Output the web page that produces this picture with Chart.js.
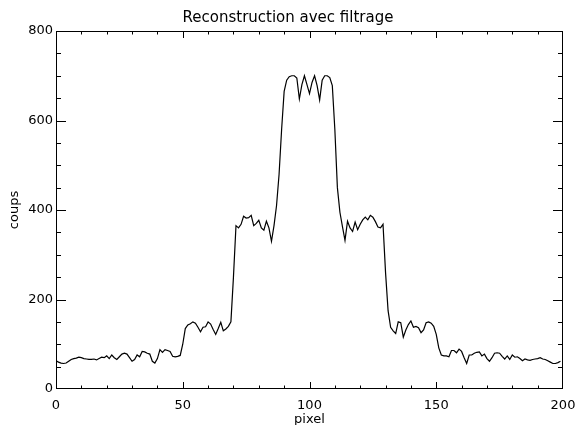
<!DOCTYPE html>
<html>
<head>
<meta charset="utf-8">
<script src="https://cdn.jsdelivr.net/npm/chart.js@4.4.1/dist/chart.umd.min.js"></script>
<style>
  html, body { margin: 0; padding: 0; background: #fff; }
  #wrap { position: relative; width: 576px; height: 425px; }
</style>
</head>
<body>
<div id="wrap"><canvas id="chart" width="576" height="425"></canvas></div>
<script>
    // 刻度标签
    const xTickLabels = [0, 50, 100, 150, 200];
    const yTickLabels = [0, 200, 400, 600, 800];

    // 每个像素的计数（pixel 0..199）
    const counts = [
        63, 60, 58, 57, 58, 62, 66, 68, 69, 71,
        70, 68, 67, 66, 66, 67, 65, 68, 71, 70,
        74, 68, 76, 70, 66, 72, 78, 80, 78, 70,
        62, 66, 76, 72, 84, 83, 80, 78, 62, 58,
        68, 88, 82, 88, 86, 84, 73, 72, 73, 75,
        100, 135, 143, 146, 150, 147, 138, 128, 138, 139,
        150, 145, 133, 122, 135, 149, 130, 134, 140, 150,
        250, 365, 360, 368, 386, 382, 383, 388, 365, 370,
        377, 360, 355, 375, 360, 330, 365, 410, 480, 580,
        665, 690, 698, 700, 700, 695, 648, 680, 700, 680,
        660, 685, 700, 678, 646, 690, 700, 700, 696, 678,
        580, 450, 395, 363, 332, 375, 360, 352, 373, 356,
        368, 378, 384, 378, 388, 384, 374, 362, 360, 368,
        260, 175, 138, 130, 124, 150, 148, 116, 132, 144,
        152, 138, 140, 137, 126, 132, 148, 150, 147, 140,
        122, 92, 76, 74, 74, 72, 86, 86, 81, 89,
        84, 70, 57, 76, 76, 80, 82, 83, 74, 78,
        68, 62, 70, 80, 81, 80, 73, 67, 74, 66,
        76, 71, 72, 68, 63, 67, 65, 64, 66, 67,
        68, 70, 67, 66, 63, 60, 57, 57, 59, 62
    ];

    const labelFont = { family: 'DejaVu Sans', size: 13 };

    // 刻度线画在框内（IDL 风格），四边都有
    const insideTicks = {
        id: 'insideTicks',
        afterDatasetsDraw(chart) {
            const { ctx, chartArea: a, scales } = chart;
            ctx.save();
            ctx.strokeStyle = '#000';
            ctx.lineWidth = 1;
            ctx.strokeRect(a.left + 0.5, a.top + 0.5, a.right - a.left - 1, a.bottom - a.top - 1);
            ctx.beginPath();
            for (let v = 0; v <= 200; v += 10) {
                const x = Math.min(Math.round(scales.x.getPixelForValue(v)), a.right - 1) + 0.5;
                const len = v % 50 === 0 ? 7 : 3.5;
                ctx.moveTo(x, a.bottom); ctx.lineTo(x, a.bottom - len);
                ctx.moveTo(x, a.top); ctx.lineTo(x, a.top + len);
            }
            for (let v = 0; v <= 800; v += 50) {
                const y = Math.min(Math.round(scales.y.getPixelForValue(v)), a.bottom - 1) + 0.5;
                const len = v % 200 === 0 ? 10 : 5;
                ctx.moveTo(a.left, y); ctx.lineTo(a.left + len, y);
                ctx.moveTo(a.right, y); ctx.lineTo(a.right - len, y);
            }
            ctx.stroke();
            ctx.restore();
        }
    };

    const ctx = document.getElementById('chart').getContext('2d');
    const chart = new Chart(ctx, {
        type: 'line',
        data: {
            datasets: [{
                label: 'coups',
                data: counts.map((v, i) => ({ x: i, y: v })),
                borderColor: '#000',
                borderWidth: 1.2,
                pointRadius: 0,
                tension: 0,
                fill: false
            }]
        },
        options: {
            responsive: false,
            animation: false,
            devicePixelRatio: 1,
            layout: { padding: { left: 0, right: 0, top: 0, bottom: 0 } },
            plugins: {
                legend: { display: false },
                tooltip: { enabled: false },
                title: {
                    display: true,
                    text: 'Reconstruction avec filtrage',
                    color: '#000',
                    font: { family: 'DejaVu Sans', size: 15, weight: 'normal', lineHeight: 1.2 },
                    padding: { top: 9, bottom: 4 }
                }
            },
            scales: {
                x: {
                    type: 'linear',
                    min: 0,
                    max: 200,
                    afterBuildTicks: s => { s.ticks = xTickLabels.map(v => ({ value: v })); },
                    afterFit: s => { s.height = 36; s.paddingLeft = 0; s.paddingRight = 13; },
                    grid: { display: false, drawTicks: false },
                    border: { display: false },
                    ticks: { color: '#000', font: labelFont, padding: 9, maxRotation: 0 },
                    title: {
                        display: true,
                        text: 'pixel',
                        color: '#000',
                        font: { family: 'DejaVu Sans', size: 13, lineHeight: 1.2 },
                        padding: { top: 0, bottom: -2 }
                    }
                },
                y: {
                    type: 'linear',
                    min: 0,
                    max: 800,
                    afterBuildTicks: s => { s.ticks = yTickLabels.map(v => ({ value: v })); },
                    afterFit: s => { s.width = 56; s.paddingTop = 0; s.paddingBottom = 0; },
                    grid: { display: false, drawTicks: false },
                    border: { display: false },
                    ticks: { color: '#000', font: labelFont, padding: 3 },
                    title: {
                        display: true,
                        text: 'coups',
                        color: '#000',
                        font: { family: 'DejaVu Sans', size: 13, lineHeight: 1.2 },
                        padding: { top: 7, bottom: 0 }
                    }
                }
            }
        },
        plugins: [insideTicks]
    });
</script>
</body>
</html>
